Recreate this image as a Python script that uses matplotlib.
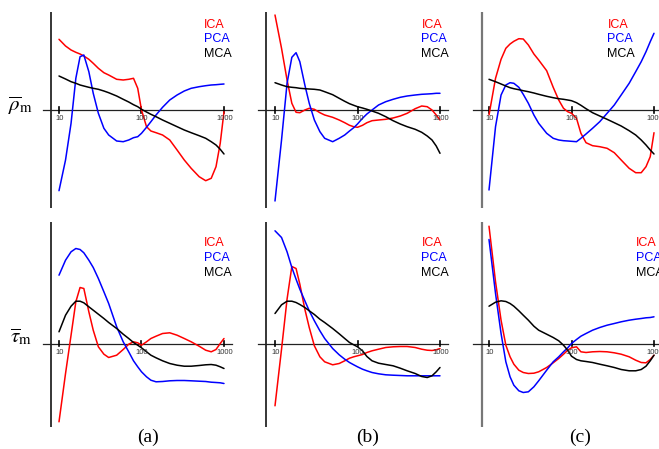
import matplotlib
matplotlib.use('Agg')
import matplotlib.pyplot as plt

plt.rcParams['mathtext.fontset'] = 'stix'

# sample points along the (log) horizontal axis, shared by every curve
dim = [10, 12, 14, 16, 18, 20, 23, 26, 30, 35, 40, 50, 60, 70, 80, 90,
       100, 115, 130, 150, 180, 220, 270, 330, 400, 500, 600, 700, 800, 900, 1000]

# top row: rho_m (arbitrary units, 0 = horizontal axis)
rho_a_ica = [70.7, 64, 60, 57.7, 56, 54, 50.7, 46.7, 41.7, 37.3, 35, 30.7, 30, 30.7, 31.7, 21.7,
             0, -16.7, -21, -22.7, -25, -30, -40, -50, -58.3, -66.7, -70.7, -68.3, -56.7, -33.3, -1.7]
rho_a_pca = [-80.7, -50, -13.3, 31.7, 53.3, 55, 38.3, 16.7, -3.3, -18.3, -25, -31, -31.7, -30, -27.7, -26.7,
             -23.3, -17.3, -11.7, -5, 2.7, 10, 15, 19, 21.7, 23.3, 24.3, 25, 25.3, 25.7, 26]
rho_a_mca = [34, 31, 28.3, 26.7, 25, 24, 22.7, 21.7, 20.7, 19, 17.3, 14, 10.7, 8, 5.3, 3.3,
             0.7, -2, -4.3, -6.7, -10, -13.3, -16.7, -20, -22.7, -25.7, -28.3, -31.7, -35, -39.3, -44]

rho_b_ica = [95, 61.7, 30, 6.7, -2.3, -2.7, 0, 1.7, 0.7, -2.7, -5, -7.3, -10, -12.7, -15.3, -16.7,
             -17.3, -15.3, -12.7, -10.7, -10, -9.3, -8, -6, -3.3, 1.3, 4, 3.3, 0, -5, -10]
rho_b_pca = [-91, -30, 26.7, 52.7, 57.3, 48.3, 25, 6.7, -10, -21.7, -28.3, -31.7, -28.3, -25, -21, -17.7,
             -14, -8.3, -4, 0, 5, 8.3, 10.7, 12.7, 14, 15, 15.7, 16, 16.3, 16.7, 16.7]
rho_b_mca = [27.3, 25, 23.3, 22.7, 22.3, 21.7, 21.3, 21, 20.7, 20, 18.3, 15.3, 11.7, 8.7, 6.3, 4.7,
             3.3, 2, 0.7, -1, -3.3, -6.7, -10.7, -14, -16.7, -19.3, -22.3, -26, -30, -36, -43.3]

rho_c_ica = [-5, 31.7, 50.7, 61.7, 66, 68.7, 71.3, 71, 65, 56, 50, 39.3, 22.7, 10, 1.7, -1.7,
             -3.3, -8.3, -23.3, -32.7, -35.7, -36.7, -38.3, -42.7, -50, -58.3, -62.7, -62.7, -56.7, -46.7, -22.7]
rho_c_pca = [-80, -16.7, 15, 25, 27.3, 26.7, 22.7, 15.7, 6.7, -5, -13.3, -23.3, -28.3, -30, -30.7, -31,
             -31.3, -31.7, -28.3, -24, -18.3, -11.7, -3.3, 5, 15, 26.7, 38.3, 48.3, 58.3, 68.3, 76.7]
rho_c_mca = [30.7, 28.3, 26, 24, 22.3, 21.3, 20.3, 19.3, 18.3, 17, 15.7, 13.7, 12.3, 11.3, 10.7, 10,
             9.3, 7.3, 4.7, 1.3, -2.7, -6, -9.3, -12.7, -16, -20.7, -25, -30, -35, -40, -44]

# bottom row: tau_m
tau_a_ica = [-78.3, -30, 8.3, 41.7, 56, 55, 31.7, 13.3, -3.3, -10.7, -14, -11.7, -6, -0.7, 1.7, 0.7,
             -1.7, 1.7, 5, 7.3, 10, 10.7, 8.3, 5, 1.7, -2.7, -6.7, -8.3, -6, 0, 5]
tau_a_pca = [68.3, 83.3, 91.7, 95, 94, 90.7, 83.3, 76, 65, 51.7, 40, 16.7, 1.7, -8.3, -17.3, -23.3,
             -28.3, -33.3, -36.7, -38.3, -38, -37.3, -37, -37, -37.3, -37.7, -38, -38.7, -39, -39.3, -40]
tau_a_mca = [11.7, 28.3, 37.3, 42.3, 42.3, 40.7, 36.7, 33.3, 29.3, 25, 21, 15, 9.3, 5, 1, -1.7,
             -4.3, -8.3, -11.7, -14.3, -17.3, -20, -21.7, -22.7, -22.7, -22, -21.3, -21, -21.7, -23.3, -25]

tau_b_ica = [-62.3, -5.7, 44.3, 77, 75, 59.3, 34.3, 16, -2.3, -13.3, -18.3, -21.3, -20, -17.3, -14.7, -13.3,
             -12.3, -11, -9, -7.3, -5.7, -4, -3.3, -3, -3, -4, -5.7, -6.7, -7, -6.3, -5]
tau_b_pca = [112.7, 106, 91.7, 76, 64.3, 54.3, 42.7, 32.7, 22.7, 12.7, 5, -5, -11.3, -15.7, -19, -21.3,
             -23.3, -25.7, -27.3, -29, -30.3, -31.3, -31.7, -32, -32.3, -32.3, -32.3, -32.3, -32.3, -32.3, -32.3]
tau_b_mca = [30, 38.7, 42.3, 42.3, 41, 39, 36, 32.7, 29, 24.3, 21, 15, 9.7, 5, 1, -1.3,
             -3.3, -7.3, -13, -17.3, -19.7, -21, -22.3, -24.7, -27.3, -30, -33, -34, -32.3, -28.3, -24]

tau_c_ica = [117.3, 61.7, 23.3, -1.7, -13.3, -20.7, -26.7, -29, -30, -29.7, -28.3, -24, -19.3, -15, -10.7, -6.7,
             -4.3, -3.3, -8.3, -9, -8.3, -8, -8.3, -9.3, -10.7, -13.3, -16.7, -19, -19.3, -16, -11.7]
tau_c_pca = [104, 50, 10, -18.3, -33.3, -41.7, -47.3, -49, -48.3, -43.3, -37.3, -26.7, -18.3, -13.3, -8.3, -4.3,
             0, 4, 7.3, 10, 13.3, 16, 18.3, 20, 21.7, 23.3, 24.3, 25, 25.7, 26, 26.7]
tau_c_mca = [37.3, 41.3, 42.7, 42, 40, 37.3, 32.7, 28.3, 23.3, 17.3, 13.3, 9.3, 6, 2.7, -1.7, -6.7,
             -12.7, -16, -17.3, -18, -19, -20.7, -22.3, -24, -26, -27.3, -27.3, -26, -22.7, -17.3, -11.7]

series = [[(rho_a_ica, rho_a_pca, rho_a_mca), (rho_b_ica, rho_b_pca, rho_b_mca), (rho_c_ica, rho_c_pca, rho_c_mca)],
          [(tau_a_ica, tau_a_pca, tau_a_mca), (tau_b_ica, tau_b_pca, tau_b_mca), (tau_c_ica, tau_c_pca, tau_c_mca)]]

names = ['ICA', 'PCA', 'MCA']
colors = ['#ff0000', '#0000ff', '#000000']
ticks = [10, 100, 1000]
row_labels = [r'$\overline{\rho}_{\mathrm{m}}$', r'$\overline{\tau}_{\mathrm{m}}$']
panel_labels = ['(a)', '(b)', '(c)']

#########
# LAYOUT (pixel positions in the 659x449 picture)
#########

W, H = 659, 449
DEC = 82.5                      # pixels per decade
col_x10 = [59, 275, 489]        # pixel of the "10" tick
col_vline = [51, 266, 482]
col_hline = [(43, 232), (258, 448), (473, 662)]
row_axis = [110, 343.5]
row_span = [(5, 215), (216, 432)]
row_vline = [(12, 208), (222, 427)]
leg_x = [[204, 421.5, 607.5], [204, 421.5, 636]]
leg_y = [[25, 39.5, 54], [243, 258, 273]]


def xval(px, x10):
    return 10 ** (1 + (px - x10) / DEC)


fig = plt.figure(figsize=(W / 100, H / 100), dpi=100)

for r in range(2):
    y0, y1 = row_span[r]
    ya = row_axis[r]
    for c in range(3):
        x10 = col_x10[c]
        L = col_vline[c] - 12
        R = min(x10 + 2 * DEC + 16, W)
        ax = fig.add_axes([L / W, 1 - y1 / H, (R - L) / W, (y1 - y0) / H])
        ax.set_xscale('log')
        ax.set_xlim(xval(L, x10), xval(R, x10))
        ax.set_ylim(ya - y1, ya - y0)
        ax.axis('off')

        # axes drawn by hand
        vcol = '#777777' if c == 2 else 'black'
        vlw = 1.6 if c == 2 else 1.1
        xv = xval(col_vline[c], x10)
        ax.plot([xv, xv], [ya - row_vline[r][0], ya - row_vline[r][1]], color=vcol, lw=vlw,
                solid_capstyle='butt')
        h0, h1 = col_hline[c]
        ax.plot([xval(h0, x10), xval(h1, x10)], [0, 0], color='#222222', lw=0.9, clip_on=False)
        for t in ticks:
            ax.plot([t, t], [-2.7, 2.7], color='black', lw=1.2)
            ax.text(t * 1.02, -5.2, str(t), ha='center', va='top', fontsize=5.5,
                    family='Liberation Sans', color='#333333')

        for vals, col in zip(series[r][c], colors):
            ax.plot(dim, vals, color=col, lw=1.1, solid_capstyle='round')

        for name, col, ly in zip(names, colors, leg_y[r]):
            fig.text(leg_x[r][c] / W, 1 - ly / H, name, color=col, fontsize=9,
                     family='Liberation Sans', ha='left', va='center')

fig.text(21 / W, 1 - 106 / H, row_labels[0], fontsize=15, ha='center', va='center')
fig.text(21 / W, 1 - 337 / H, row_labels[1], fontsize=15, ha='center', va='center')

for x, lab in zip([148, 368, 580], panel_labels):
    fig.text(x / W, 1 - 437 / H, lab, fontsize=14, family='Liberation Serif',
             ha='center', va='center')

fig.savefig('out.png', dpi=100)
